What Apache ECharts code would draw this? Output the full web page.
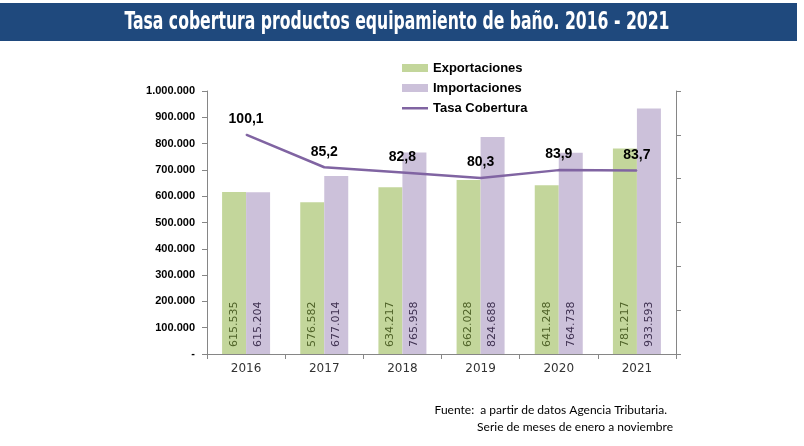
<!DOCTYPE html>
<html>
<head>
<meta charset="utf-8">
<script src="https://cdn.jsdelivr.net/npm/echarts@6/dist/echarts.min.js"></script>
<style>
html,body{margin:0;padding:0;background:#fff;}
#main{width:804px;height:446px;}
</style>
</head>
<body>
<div id="main"></div>
<script>
var categories = ['2016', '2017', '2018', '2019', '2020', '2021'];
var exportaciones = [615535, 576582, 634217, 662028, 641248, 781217];
var importaciones = [615204, 677014, 765958, 824688, 764738, 933593];
var tasaCobertura = [100.1, 85.2, 82.8, 80.3, 83.9, 83.7];
var titleText = 'Tasa cobertura productos equipamiento de baño. 2016 - 2021';
var footer1 = 'Fuente:  a partir de datos Agencia Tributaria.';
var footer2 = 'Serie de meses de enero a noviembre';

function fmtThousands(v) {
  var s = String(Math.round(v));
  return s.replace(/\B(?=(\d{3})+(?!\d))/g, '.');
}

// fit title width
var titleFont = 'bold 24px "Liberation Sans Narrow", "DejaVu Sans Condensed", sans-serif';
var cv = document.createElement('canvas').getContext('2d');
cv.font = titleFont;
var tw = cv.measureText(titleText).width;
var titleScale = 545 / tw;

var lineIcon = 'path://M0,0L0.01,0L0.01,0.01ZM0,3h26v2.5h-26zM0,8L0.01,8L0.01,7.99Z';

var chart = echarts.init(document.getElementById('main'), null, {renderer: 'canvas'});
var option = {
  animation: false,
  backgroundColor: '#ffffff',
  graphic: [
    {type: 'rect', left: 0, top: 3, shape: {width: 797, height: 38}, style: {fill: '#1f497d'}, z: 0},
    {type: 'text', x: 397, y: 23, scaleX: titleScale, originX: 0, z: 1,
      style: {text: titleText, fill: '#ffffff', font: titleFont, align: 'center', verticalAlign: 'middle'}},
    {type: 'text', x: 667, y: 410, z: 1,
      style: {text: footer1, fill: '#000000', font: '12px Lato, "Open Sans", sans-serif', align: 'right', verticalAlign: 'middle'}},
    {type: 'text', x: 673, y: 427, z: 1,
      style: {text: footer2, fill: '#000000', font: '12px Lato, "Open Sans", sans-serif', align: 'right', verticalAlign: 'middle'}}
  ],
  legend: {
    orient: 'vertical',
    left: 397,
    top: 56,
    itemWidth: 26,
    itemHeight: 8,
    itemGap: 6,
    textStyle: {fontFamily: '"Liberation Sans", Arial, sans-serif', fontWeight: 'bold', fontSize: 13, color: '#000', lineHeight: 14},
    data: [
      {name: 'Exportaciones', icon: 'rect'},
      {name: 'Importaciones', icon: 'rect'},
      {name: 'Tasa Cobertura', icon: lineIcon}
    ]
  },
  grid: {left: 207, right: 128, top: 91, bottom: 92, containLabel: false},
  xAxis: {
    type: 'category',
    data: categories,
    axisLine: {show: true, lineStyle: {color: '#868686', width: 1}},
    axisTick: {show: true, length: 5, alignWithLabel: false, lineStyle: {color: '#868686'}},
    axisLabel: {margin: 9, fontFamily: '"DejaVu Sans", Verdana, sans-serif', fontSize: 12, color: '#333333'},
    splitLine: {show: false}
  },
  yAxis: [
    {
      type: 'value', min: 0, max: 1000000, interval: 100000,
      axisLine: {show: true, lineStyle: {color: '#868686', width: 1}},
      axisTick: {show: true, length: 5, inside: false, lineStyle: {color: '#868686'}},
      axisLabel: {
        margin: 12, fontFamily: '"Liberation Sans", Arial, sans-serif', fontWeight: 'bold', fontSize: 11, color: '#000',
        formatter: function (v) { return v === 0 ? '-' : fmtThousands(v); }
      },
      splitLine: {show: false}
    },
    {
      type: 'value', min: 0, max: 120, interval: 20, position: 'right',
      axisLine: {show: true, lineStyle: {color: '#868686', width: 1}},
      axisTick: {show: true, length: 5, inside: false, lineStyle: {color: '#868686'}},
      axisLabel: {show: false},
      splitLine: {show: false}
    }
  ],
  series: [
    {
      name: 'Exportaciones', type: 'bar', data: exportaciones, yAxisIndex: 0,
      barWidth: 24, barGap: '0%',
      itemStyle: {color: '#c3d69b'},
      label: {
        show: true, position: 'insideBottom', rotate: 90, align: 'left', verticalAlign: 'middle', distance: 7,
        fontFamily: '"DejaVu Sans", Verdana, sans-serif', fontSize: 11, color: '#4f6228',
        formatter: function (p) { return fmtThousands(p.value); }
      }
    },
    {
      name: 'Importaciones', type: 'bar', data: importaciones, yAxisIndex: 0,
      barWidth: 24, barGap: '0%',
      itemStyle: {color: '#ccc1da'},
      label: {
        show: true, position: 'insideBottom', rotate: 90, align: 'left', verticalAlign: 'middle', distance: 7,
        fontFamily: '"DejaVu Sans", Verdana, sans-serif', fontSize: 11, color: '#3f3151',
        formatter: function (p) { return fmtThousands(p.value); }
      }
    },
    {
      name: 'Tasa Cobertura', type: 'line', data: tasaCobertura, yAxisIndex: 1,
      symbol: 'circle', symbolSize: 1, showSymbol: true,
      lineStyle: {color: '#8064a2', width: 2.5},
      itemStyle: {color: '#8064a2'},
      z: 5,
      label: {
        show: true, position: 'top', distance: 8,
        fontFamily: '"Liberation Sans", Arial, sans-serif', fontWeight: 'bold', fontSize: 14, color: '#000',
        formatter: function (p) { return String(p.value.toFixed(1)).replace('.', ','); }
      }
    }
  ]
};
chart.setOption(option);
</script>
</body>
</html>
